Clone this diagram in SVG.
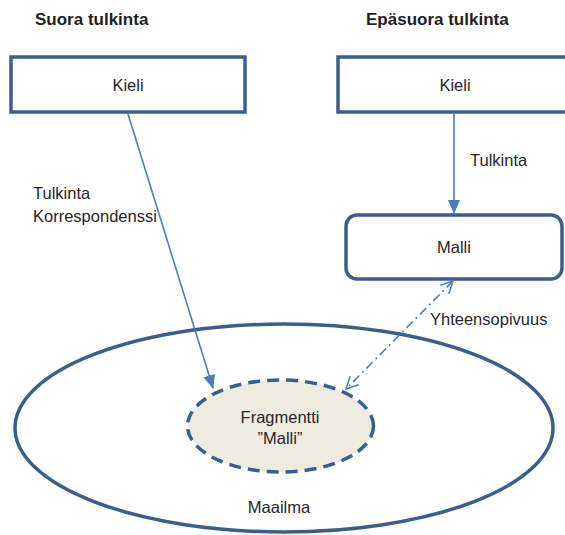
<svg xmlns="http://www.w3.org/2000/svg" width="565" height="535" viewBox="0 0 565 535">
<style>
.t{font-family:"Liberation Sans",Arial,sans-serif;font-size:16.5px;fill:#262626}
.h{font-family:"Liberation Sans",Arial,sans-serif;font-size:17px;font-weight:bold;fill:#1f1f1f}
.box{fill:#fff;stroke:#3a5f8f;stroke-width:3.5}
.con{fill:none;stroke:#4a7ebb;stroke-width:1.6}
</style>
<defs>
<marker id="ah" markerUnits="userSpaceOnUse" markerWidth="14" markerHeight="12" viewBox="0 0 14 12" refX="13" refY="6" orient="auto">
<path d="M0,0 L14,6 L0,12 z" fill="#4a7ebb"/>
</marker>
<marker id="oa" markerUnits="userSpaceOnUse" markerWidth="14" markerHeight="14" viewBox="0 0 14 14" refX="13" refY="7" orient="auto-start-reverse">
<path d="M1,1 L13,7 L1,13" fill="none" stroke="#4a7ebb" stroke-width="1.6"/>
</marker>
</defs>
<rect width="565" height="535" fill="#fff"/>
<text class="h" x="35" y="25">Suora tulkinta</text>
<text class="h" x="366" y="25">Epäsuora tulkinta</text>
<g id="maailma">
<ellipse cx="284" cy="428" rx="269" ry="104" fill="#fff" stroke="#3a5f8f" stroke-width="3.5"/>
<text class="t" x="279" y="513" text-anchor="middle">Maailma</text>
</g>
<g id="fragmentti">
<ellipse cx="280.5" cy="426" rx="93" ry="46" fill="#eeece1" stroke="#3a5f8f" stroke-width="3.5" stroke-dasharray="12 7"/>
<text class="t" x="280" y="423" text-anchor="middle">Fragmentti</text>
<text class="t" x="280" y="444" text-anchor="middle">”Malli”</text>
</g>
<g id="kieli1">
<rect class="box" x="11" y="57" width="234" height="55"/>
<text class="t" x="128" y="91" text-anchor="middle">Kieli</text>
</g>
<g id="kieli2">
<rect class="box" x="338" y="57" width="234" height="55"/>
<text class="t" x="455" y="91" text-anchor="middle">Kieli</text>
</g>
<g id="malli">
<rect class="box" x="346" y="215" width="216" height="64" rx="11"/>
<text class="t" x="454" y="253" text-anchor="middle">Malli</text>
</g>
<g id="connectors">
<line class="con" x1="128" y1="114" x2="213" y2="388" marker-end="url(#ah)"/>
<line class="con" x1="454" y1="114" x2="454" y2="213" marker-end="url(#ah)"/>
<line class="con" x1="453" y1="281" x2="346" y2="389" stroke-dasharray="9 4 2 4" marker-start="url(#oa)" marker-end="url(#oa)"/>
</g>
<g id="labels">
<text class="t" x="33" y="199">Tulkinta</text>
<text class="t" x="33" y="222">Korrespondenssi</text>
<text class="t" x="470" y="166">Tulkinta</text>
<text class="t" x="430" y="325">Yhteensopivuus</text>
</g>
</svg>
